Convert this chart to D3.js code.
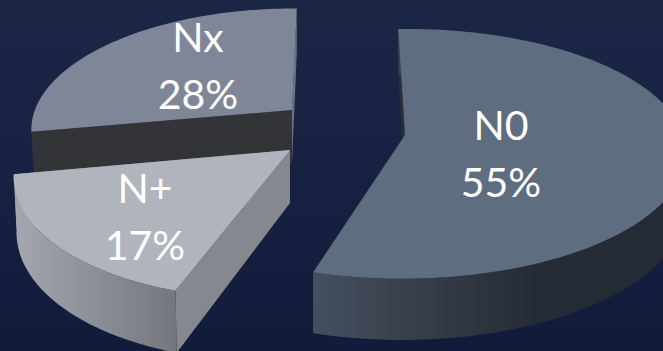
<!DOCTYPE html>
<html>
<head>
<meta charset="utf-8">
<script src="https://cdn.jsdelivr.net/npm/d3@7"></script>
<style>
html,body{margin:0;padding:0;background:#18213f;overflow:hidden}
svg{display:block}
text{font-family:Lato,"Open Sans",sans-serif;fill:#fff;text-anchor:middle}
</style>
</head>
<body>
<svg id="chart" width="663" height="351"></svg>
<script>
const categories = ["N0", "N+", "Nx"];
const shares = [55, 17, 28];
const percentLabels = ["55%", "17%", "28%"];

// Placement of each exploded wedge in the tilted view.
const views = {
  "N0": {cx:405, cy:135, a:278, b:122, skew:-0.02, roll:0,     depth:52, shrink:0,     top:"#5f6d80", startTone:"#2a3037", endTone:"#2a3037", labelX:501, labelY:[140,197]},
  "N+": {cx:290, cy:150, a:268, b:127, skew:-0.2,  roll:0.018, depth:53, shrink:0.01,  top:"#b0b4bd", startTone:"#85888f", endTone:"#85888f", labelX:145, labelY:[203,260]},
  "Nx": {cx:292, cy:110, a:255, b:117, skew:-0.127,roll:0.02,  depth:53, shrink:0.012, top:"#7f8698", startTone:"#333438", endTone:"#6d7282", labelX:198, labelY:[52,109]}
};
const sideStops = {
  "N0": ["#464f5e", "#242b34"],
  "N+": ["#a2a5ae", "#74777e"]
};
const sideSpan = {"N0": [312, 540], "N+": [20, 175]};
const perspective = 0.151;
const drawOrder = ["Nx", "N+", "N0"];

const svg = d3.select("#chart");
const defs = svg.append("defs");

const bg = defs.append("linearGradient").attr("id","bg").attr("x1",0).attr("y1",0).attr("x2",0).attr("y2",1);
bg.append("stop").attr("offset",0).attr("stop-color","#1c2645");
bg.append("stop").attr("offset",1).attr("stop-color","#131b3b");
svg.append("rect").attr("width",663).attr("height",351).attr("fill","url(#bg)");

const pie = d3.pie().sort(null).value(d => d)
  .startAngle(-2.1 * Math.PI / 180)
  .endAngle((360 - 2.1) * Math.PI / 180);
const wedges = pie(shares);

// Projects a polar point on the pie disc, lowered by h along the thickness.
function project(v, angle, r, h) {
  const X = r * Math.sin(angle), Z = r * Math.cos(angle);
  const d = 1 + perspective * Z;
  const yBase = -v.b * Z / d;
  const xOff = v.a * X / d + v.skew * yBase;
  const yOff = yBase + v.roll * xOff;
  const k = h ? 1 - v.shrink : 1;
  return [v.cx + xOff * k, v.cy + yOff + h * v.depth / d];
}

const outline = d3.line();

drawOrder.forEach(name => {
  const i = categories.indexOf(name);
  const v = views[name];
  const w = wedges[i];
  const angles = d3.range(0, 121).map(t => w.startAngle + (w.endAngle - w.startAngle) * t / 120);
  const rimTop = angles.map(a => project(v, a, 1, 0));
  const rimLow = angles.map(a => project(v, a, 1, 1));
  const hubTop = project(v, 0, 0, 0), hubLow = project(v, 0, 0, 1);

  const g = svg.append("g").attr("class", "slice");

  // Cut faces of the wedge
  g.append("path").attr("d", outline([hubTop, rimTop[120], rimLow[120], hubLow]) + "Z").attr("fill", v.endTone);
  g.append("path").attr("d", outline([hubTop, rimTop[0], rimLow[0], hubLow]) + "Z").attr("fill", v.startTone);

  // Outer rim, shaded across its width
  if (sideStops[name]) {
    const gradId = "side" + i;
    const grad = defs.append("linearGradient").attr("id", gradId)
      .attr("gradientUnits", "userSpaceOnUse")
      .attr("x1", sideSpan[name][0]).attr("x2", sideSpan[name][1])
      .attr("y1", 0).attr("y2", 0);
    grad.append("stop").attr("offset", 0).attr("stop-color", sideStops[name][0]);
    grad.append("stop").attr("offset", 1).attr("stop-color", sideStops[name][1]);
    g.append("path")
      .attr("d", outline(rimTop.concat(rimLow.slice().reverse())) + "Z")
      .attr("fill", `url(#${gradId})`);
  }

  // Top face
  g.append("path")
    .attr("d", outline([hubTop].concat(rimTop)) + "Z")
    .attr("fill", v.top);

  // Category and percentage labels
  g.append("text").attr("x", v.labelX).attr("y", v.labelY[0]).attr("font-size", 41).text(name);
  g.append("text").attr("x", v.labelX).attr("y", v.labelY[1]).attr("font-size", 41).text(percentLabels[i]);
});
</script>
</body>
</html>
